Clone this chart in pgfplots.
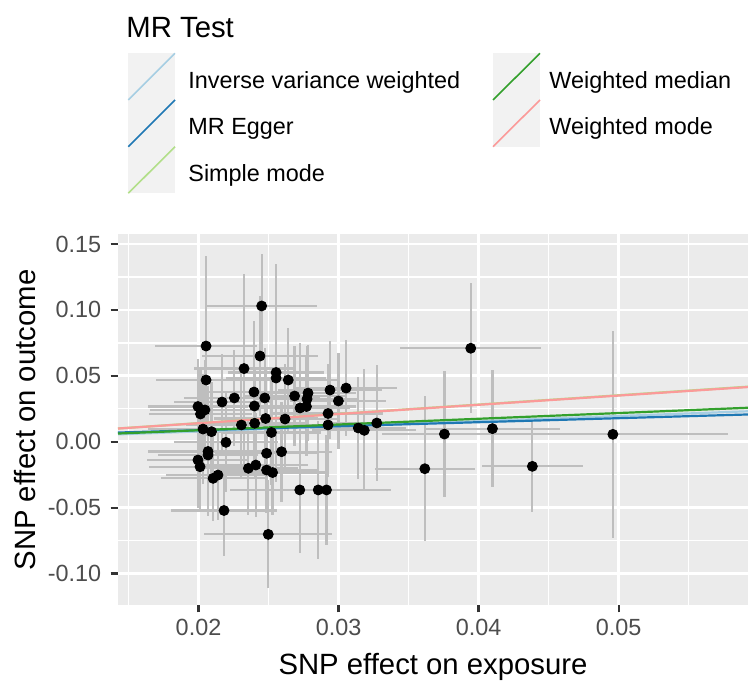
\documentclass[border=0pt]{standalone}
\usepackage{fontspec}
\setmainfont{Liberation Sans}
\usepackage{pgfplots}
\pgfplotsset{compat=1.18}
\usepackage{pgfplotstable}
\definecolor{panelbg}{HTML}{EBEBEB}
\definecolor{keybg}{HTML}{F2F2F2}
\definecolor{errgrey}{HTML}{BEBEBE}
\definecolor{tickgrey}{HTML}{333333}
\definecolor{labgrey}{HTML}{4D4D4D}
\definecolor{ivw}{HTML}{A6CEE3}
\definecolor{egger}{HTML}{1F78B4}
\definecolor{smode}{HTML}{B2DF8A}
\definecolor{wmedian}{HTML}{33A02C}
\definecolor{wmode}{HTML}{FB9A99}
\newcommand\ltitle{\fontsize{14.65bp}{17bp}\selectfont}
\newcommand\llab{\fontsize{11.7bp}{14bp}\selectfont}

\pgfplotstableread{
x y ex ey
0.02451 0.1030 0.00393 0.0395
0.02054 0.0726 0.00364 0.0683
0.02439 0.0650 0.00414 0.0455
0.02325 0.0555 0.00357 0.0721
0.02554 0.0525 0.00343 0.0827
0.02554 0.0483 0.00357 0.0417
0.02641 0.0468 0.00371 0.0395
0.02054 0.0468 0.00357 0.0341
0.03944 0.0709 0.00505 0.0493
0.02396 0.0377 0.00371 0.0539
0.02473 0.0332 0.00393 0.0379
0.02256 0.0332 0.00357 0.0364
0.02168 0.0301 0.00343 0.0364
0.01996 0.0267 0.00357 0.0364
0.02014 0.0210 0.00371 0.0341
0.02046 0.0241 0.00393 0.0379
0.02399 0.0271 0.00371 0.0417
0.02686 0.0347 0.00357 0.0379
0.02782 0.0369 0.00343 0.0364
0.02775 0.0324 0.00371 0.0402
0.02725 0.0256 0.00357 0.0493
0.02771 0.0267 0.00357 0.0379
0.02939 0.0392 0.00371 0.0372
0.03054 0.0407 0.00362 0.0364
0.02999 0.0309 0.00343 0.0364
0.02925 0.0214 0.00393 0.0379
0.02925 0.0127 0.00371 0.0395
0.02032 0.0096 0.00393 0.0417
0.02093 0.0076 0.00371 0.0379
0.02306 0.0127 0.00393 0.0395
0.02401 0.0140 0.00357 0.0417
0.02479 0.0176 0.00371 0.0379
0.02521 0.0070 0.00357 0.0395
0.02618 0.0172 0.00393 0.0417
0.03141 0.0104 0.00343 0.0387
0.03184 0.0086 0.00371 0.0463
0.03273 0.0142 0.00357 0.0440
0.03756 0.0058 0.00443 0.0478
0.04099 0.0099 0.00479 0.0445
0.03616 -0.0205 0.00357 0.0550
0.04384 -0.0187 0.00361 0.0349
0.04959 0.0056 0.00821 0.0786
0.02196 -0.0005 0.00371 0.0379
0.02068 -0.0074 0.00429 0.0493
0.02068 -0.0101 0.00357 0.0379
0.02486 -0.0088 0.00371 0.0395
0.02593 -0.0076 0.00357 0.0379
0.01996 -0.0139 0.00364 0.0364
0.02011 -0.0190 0.00364 0.0319
0.02356 -0.0202 0.00357 0.0357
0.02409 -0.0177 0.00371 0.0395
0.02486 -0.0215 0.00357 0.0326
0.02529 -0.0234 0.00371 0.0322
0.02104 -0.0278 0.00371 0.0326
0.02139 -0.0253 0.00371 0.0341
0.02723 -0.0366 0.00500 0.0478
0.02855 -0.0366 0.00429 0.0524
0.02914 -0.0366 0.00461 0.0417
0.02182 -0.0522 0.00379 0.0349
0.02498 -0.0703 0.00457 0.0410
}\snpdata

\begin{document}
\begin{tikzpicture}
\path[use as bounding box] (0,0) rectangle (374bp,341bp);
\begin{axis}[
  at={(59bp,38.5bp)}, anchor=south west,
  scale only axis, width=315bp, height=185.5bp,
  xmin=0.01425, xmax=0.05924, ymin=-0.1239, ymax=0.1576,
  scaled ticks=false,
  axis background/.style={fill=panelbg},
  axis line style={draw=none},
  xtick={0.02,0.03,0.04,0.05},
  minor xtick={0.015,0.025,0.035,0.045,0.055},
  ytick={-0.1,-0.05,0,0.05,0.1,0.15},
  minor ytick={-0.075,-0.025,0.025,0.075,0.125},
  xticklabels={0.02,0.03,0.04,0.05},
  yticklabels={-0.10,-0.05,0.00,0.05,0.10,0.15},
  grid=both,
  major grid style={draw=white, line width=1.4bp},
  minor grid style={draw=white, line width=0.7bp},
  tick align=outside, tick pos=left,
  major tick length=3.7bp, minor tick length=0pt,
  major tick style={draw=tickgrey, line width=1.1bp},
  minor tick style={draw=none},
  xticklabel style={font=\llab, text=labgrey, inner sep=0pt, anchor=north, yshift=-3bp},
  yticklabel style={font=\llab, text=labgrey, inner sep=0pt, anchor=east, xshift=-4.5bp},
  clip=true,
]
\addplot[only marks, mark=*, mark size=2.5bp,
  mark options={fill=black, draw=none},
  error bars/.cd, x dir=both, x explicit, y dir=both, y explicit,
  error mark=none,
  error bar style={draw=errgrey, line width=1.1bp}]
  table[x=x, y=y, x error=ex, y error=ey] {\snpdata};
% Inverse variance weighted
\addplot[ivw, line width=1.1bp] coordinates {(0.01425,0.00556) (0.05924,0.02310)};
% MR Egger
\addplot[egger, line width=1.1bp] coordinates {(0.01425,0.00695) (0.05924,0.02067)};
% Simple mode
\addplot[smode, line width=1.1bp] coordinates {(0.01425,0.01005) (0.05924,0.04176)};
% Weighted median
\addplot[wmedian, line width=1.1bp] coordinates {(0.01425,0.00620) (0.05924,0.02577)};
% Weighted mode
\addplot[wmode, line width=1.1bp] coordinates {(0.01425,0.00998) (0.05924,0.04147)};
\end{axis}
\begin{scope}[yshift=341bp, x=0.5bp, y=-0.5bp]
  % axis titles
  \node[anchor=base, inner sep=0pt, font=\ltitle] at (433,675) {SNP effect on exposure};
  \node[rotate=90, anchor=base, inner sep=0pt, font=\ltitle] at (35,420) {SNP effect on outcome};
  % legend
  \node[anchor=base west, inner sep=0pt, font=\ltitle] at (126,38) {MR Test};
  \fill[keybg] (128.3,53.3) rectangle (175,193.3);
  \fill[keybg] (493,53.3) rectangle (540,146.7);
  \draw[ivw, line width=0.8bp] (128.3,100) -- (175,53.3);
  \draw[egger, line width=0.8bp] (128.3,146.7) -- (175,100);
  \draw[smode, line width=0.8bp] (128.3,193.3) -- (175,146.7);
  \draw[wmedian, line width=0.8bp] (493,100) -- (540,53.3);
  \draw[wmode, line width=0.8bp] (493,146.7) -- (540,100);
  \node[anchor=base west, inner sep=0pt, font=\llab] at (188,88.3) {Inverse variance weighted};
  \node[anchor=base west, inner sep=0pt, font=\llab] at (188,135) {MR Egger};
  \node[anchor=base west, inner sep=0pt, font=\llab] at (188,181.7) {Simple mode};
  \node[anchor=base west, inner sep=0pt, font=\llab] at (549,88.3) {Weighted median};
  \node[anchor=base west, inner sep=0pt, font=\llab] at (549,135) {Weighted mode};
\end{scope}
\end{tikzpicture}
\end{document}
